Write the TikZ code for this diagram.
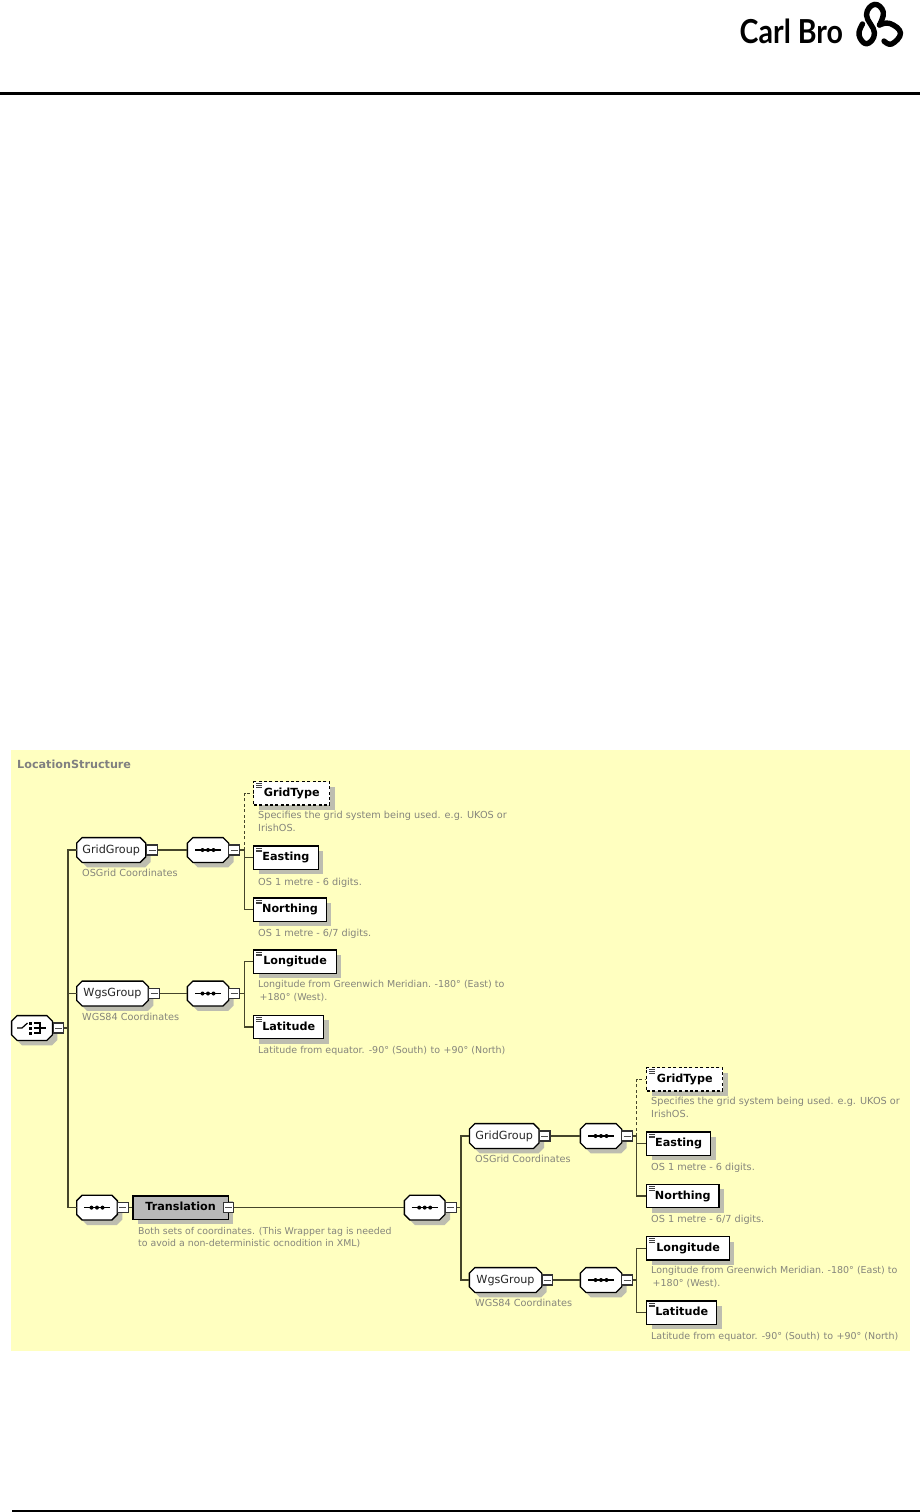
\documentclass[tikz,border=0pt]{standalone}
\usepackage{fontspec}
\setmainfont{DejaVu Sans}
\newfontfamily\logofont{Lato}
\usetikzlibrary{shadows}
\definecolor{panelc}{HTML}{FFFFC0}
\definecolor{shadowc}{HTML}{BDBDB0}
\definecolor{wirec}{HTML}{45452A}
\definecolor{descc}{HTML}{85857C}
\definecolor{transc}{HTML}{B8B8B8}
\makeatletter
\newdimen\octxa\newdimen\octya\newdimen\octxb\newdimen\octyb\newdimen\octc
\pgfdeclareshape{octbox}{
  \inheritsavedanchors[from=rectangle]
  \inheritanchorborder[from=rectangle]
  \inheritanchor[from=rectangle]{center}
  \inheritanchor[from=rectangle]{base}
  \inheritanchor[from=rectangle]{west}
  \inheritanchor[from=rectangle]{east}
  \inheritanchor[from=rectangle]{north}
  \inheritanchor[from=rectangle]{south}
  \backgroundpath{
    \southwest \octxa=\pgf@x \octya=\pgf@y
    \northeast \octxb=\pgf@x \octyb=\pgf@y
    \octc=5.5pt
    \pgfpathmoveto{\pgfqpoint{\dimexpr\octxa+\octc}{\octya}}
    \pgfpathlineto{\pgfqpoint{\dimexpr\octxb-\octc}{\octya}}
    \pgfpathlineto{\pgfqpoint{\octxb}{\dimexpr\octya+\octc}}
    \pgfpathlineto{\pgfqpoint{\octxb}{\dimexpr\octyb-\octc}}
    \pgfpathlineto{\pgfqpoint{\dimexpr\octxb-\octc}{\octyb}}
    \pgfpathlineto{\pgfqpoint{\dimexpr\octxa+\octc}{\octyb}}
    \pgfpathlineto{\pgfqpoint{\octxa}{\dimexpr\octyb-\octc}}
    \pgfpathlineto{\pgfqpoint{\octxa}{\dimexpr\octya+\octc}}
    \pgfpathclose
  }
}
\makeatother
\tikzset{
  wire/.style={draw=wirec,line width=1.2pt},
  wiredash/.style={wire,dash pattern=on 3pt off 2.4pt},
  rul/.style={draw=black},
  sh/.style={general shadow={fill=shadowc,shadow xshift=5pt,shadow yshift=-5pt}},
  octa/.style={octbox,draw=black,line width=1.3pt,fill=white,inner sep=0pt,minimum height=23.5pt,sh,text=black!85,font=\fontsize{11.2}{13}\selectfont,text height=8.5pt,text depth=2.5pt},
  seqicon/.style={path picture={
    \draw[black,line width=1.2pt] ([xshift=-13pt]path picture bounding box.center) -- ([xshift=13pt]path picture bounding box.center);
    \fill[black] ([xshift=-5.5pt]path picture bounding box.center) circle (2pt);
    \fill[black] (path picture bounding box.center) circle (2pt);
    \fill[black] ([xshift=5.5pt]path picture bounding box.center) circle (2pt);}},
  choiceicon/.style={path picture={
    \draw[black,line width=1.2pt] ([shift={(-15pt,0pt)}]path picture bounding box.center) -- ([shift={(-10pt,0pt)}]path picture bounding box.center) -- ([shift={(-4.5pt,5pt)}]path picture bounding box.center);
    \foreach \yy in {-3.5,1.5,6.5}{\fill[black] ([shift={(-2.8pt,\yy pt)}]path picture bounding box.center) rectangle +(3.2pt,-3.2pt);}
    \draw[black,line width=1.2pt] ([shift={(1.5pt,5pt)}]path picture bounding box.center) -- ([shift={(8pt,5pt)}]path picture bounding box.center) -- ([shift={(8pt,-5pt)}]path picture bounding box.center) -- ([shift={(1.5pt,-5pt)}]path picture bounding box.center);
    \draw[black,line width=1.2pt] ([shift={(1.5pt,0pt)}]path picture bounding box.center) -- ([shift={(14pt,0pt)}]path picture bounding box.center);}},
  minusbox/.style={rectangle,draw=black!80,line width=1.1pt,fill=white,inner sep=0pt,minimum width=10.5pt,minimum height=10pt,
    path picture={\draw[black!70,line width=1pt] ([xshift=-3.5pt]path picture bounding box.center) -- ([xshift=3.5pt]path picture bounding box.center);}},
  elem/.style={rectangle,draw=black,line width=1.4pt,fill=white,inner sep=0pt,anchor=north west,minimum height=23.3pt,sh,
    font=\bfseries\fontsize{11.2}{13}\selectfont,text height=8.5pt,text depth=2.5pt,
    path picture={
      \foreach \yy in {2.2,4,5.8}{\draw[solid,black!75,line width=.9pt] ([shift={(2.5pt,-\yy pt)}]path picture bounding box.north west) -- ([shift={(8.5pt,-\yy pt)}]path picture bounding box.north west);}}},
  optelem/.style={elem,draw=black,dash pattern=on 3pt off 2.4pt},
  desc/.style={anchor=north west,inner sep=0pt,align=left,text=descc,yshift=5.6pt,
    font=\fontsize{9.7}{12.7}\selectfont,execute at begin node=\strut,execute at end node=\strut},
  descnarrow/.style={desc,font=\fontsize{9.5}{12.7}\selectfont},
  desctight/.style={desc,font=\fontsize{9.37}{12.7}\selectfont},
  titletext/.style={anchor=west,inner sep=0pt,text=black!50,font=\bfseries\fontsize{11.2}{13}\selectfont}
}
\newcommand{\dblsp}{\hspace{3.5pt}}
\begin{document}
\begin{tikzpicture}[x=1pt,y=-1pt]
\useasboundingbox (0,0) rectangle (920,1512);
\fill[white] (0,0) rectangle (920,1512);
% page furniture
\coordinate (ruleAl) at (0,93.7);
\coordinate (ruleAr) at (920,93.7);
\coordinate (ruleBl) at (12,1511);
\coordinate (ruleBr) at (920,1511);
\draw[rul,line width=2.8pt] (ruleAl) -- (ruleAr);
\draw[rul,line width=1.4pt] (ruleBl) -- (ruleBr);
% logo
\node[anchor=base west,inner sep=0pt,xscale=1.02,yscale=1.18,transform shape,font=\logofont\bfseries\fontsize{28}{30}\selectfont] (logotext) at (739.5,44) {Carl Bro};
\draw[line width=5.4pt,line cap=round,line join=round] plot[smooth,tension=.75] coordinates {(862.5,24) (859,35) (866.7,43.8) (874.5,33) (866.5,15) (874.5,4.4) (883.3,12) (879.5,25)};
\draw[line width=5.4pt,line cap=round,line join=round] plot[smooth,tension=.75] coordinates {(879.5,25) (890,23.5) (900.5,33) (891.7,44) (884,41)};
% panel
\fill[panelc] (11,750) rectangle (910,1351);
\node[titletext] (title) at (17,764) {LocationStructure};
% junctions
\coordinate (bus1) at (68,1028);
\coordinate (bus2) at (244.5,850);
\coordinate (bus3) at (244.5,993.5);
\coordinate (bus4) at (461,1207.6);
\coordinate (bus5) at (636.7,1136);
\coordinate (bus6) at (636.7,1280);
% left tree
\node[octa,minimum width=39.5pt,choiceicon] (root) at (32,1028) {};
\node[minusbox] (rootm) at (58.5,1028) {};
\node[octa,minimum width=67.7pt] (gg1) at (111.2,850) {GridGroup};
\node[minusbox] (gg1m) at (152,850) {};
\node[desc] (gg1d) at (82,873.3) {OSGrid Coordinates};
\node[octa,minimum width=40pt,seqicon] (sq1) at (208,850) {};
\node[minusbox] (sq1m) at (234,850) {};
\node[optelem,minimum width=76pt] (gt1) at (253,781) {GridType};
\node[desc] (gt1d) at (258,816.7) {Specifies the grid system being used. e.g. UKOS or\\IrishOS.};
\node[elem,minimum width=64.5pt] (ea1) at (253,845.3) {Easting};
\node[desc] (ea1d) at (258,881.7) {OS 1 metre - 6 digits.};
\node[elem,minimum width=72.7pt] (no1) at (253,897.4) {Northing};
\node[desc] (no1d) at (258,933.3) {OS 1 metre - 6/7 digits.};
\node[octa,minimum width=70.4pt] (wg1) at (112.5,993.5) {WgsGroup};
\node[minusbox] (wg1m) at (154,993.5) {};
\node[desc] (wg1d) at (82,1016.7) {WGS84 Coordinates};
\node[octa,minimum width=40pt,seqicon] (sq2) at (208,993.5) {};
\node[minusbox] (sq2m) at (234,993.5) {};
\node[elem,minimum width=82.7pt] (lo1) at (253,949.4) {Longitude};
\node[descnarrow] (lo1d) at (258,985.7) {Longitude from Greenwich Meridian.\dblsp -180° (East) to\\\hspace*{1.5pt}+180° (West).};
\node[elem,minimum width=70pt] (la1) at (253,1014.7) {Latitude};
\node[descnarrow] (la1d) at (258,1050.3) {Latitude from equator. -90° (South)\dblsp to\dblsp +90° (North)};
% translation row
\node[octa,minimum width=39.4pt,seqicon] (sq3) at (97,1207.6) {};
\node[minusbox] (sq3m) at (122.8,1207.6) {};
\node[rectangle,draw=black,line width=1.4pt,fill=transc,minimum width=95.3pt,minimum height=23.3pt,inner sep=0pt,sh,font=\bfseries\fontsize{11.2}{13}\selectfont,text height=8.5pt,text depth=2.5pt] (tr) at (180.6,1207.6) {Translation\hspace{4pt}};
\node[minusbox] (trm) at (228.4,1207.6) {};
\node[desctight] (trd) at (138,1232.3) {Both sets of coordinates. (This Wrapper tag is needed\\to avoid a non-deterministic ocnodition in XML)};
\node[octa,minimum width=39.4pt,seqicon] (sq4) at (424.7,1207.6) {};
\node[minusbox] (sq4m) at (450.8,1207.6) {};
% right tree
\node[octa,minimum width=68.3pt] (gg2) at (504.2,1136) {GridGroup};
\node[minusbox] (gg2m) at (544.7,1136) {};
\node[desc] (gg2d) at (475,1159.3) {OSGrid Coordinates};
\node[octa,minimum width=40pt,seqicon] (sq5) at (601,1136) {};
\node[minusbox] (sq5m) at (627,1136) {};
\node[optelem,minimum width=76pt] (gt2) at (646,1066.8) {GridType};
\node[desc] (gt2d) at (651,1102.7) {Specifies the grid system being used. e.g. UKOS or\\IrishOS.};
\node[elem,minimum width=64pt] (ea2) at (646,1131.4) {Easting};
\node[desc] (ea2d) at (651,1167.3) {OS 1 metre - 6 digits.};
\node[elem,minimum width=72.3pt] (no2) at (646,1183.7) {Northing};
\node[desc] (no2d) at (651,1219.3) {OS 1 metre - 6/7 digits.};
\node[octa,minimum width=71pt] (wg2) at (505.5,1280) {WgsGroup};
\node[minusbox] (wg2m) at (547.2,1280) {};
\node[desc] (wg2d) at (475,1302.7) {WGS84 Coordinates};
\node[octa,minimum width=40pt,seqicon] (sq6) at (601,1280) {};
\node[minusbox] (sq6m) at (627,1280) {};
\node[elem,minimum width=82.7pt] (lo2) at (646,1235.8) {Longitude};
\node[descnarrow] (lo2d) at (651,1271.7) {Longitude from Greenwich Meridian.\dblsp -180° (East) to\\\hspace*{1.5pt}+180° (West).};
\node[elem,minimum width=70pt] (la2) at (646,1300.4) {Latitude};
\node[descnarrow] (la2d) at (651,1336.3) {Latitude from equator. -90° (South)\dblsp to\dblsp +90° (North)};
% connectors
\draw[wire] (rootm) -- (bus1);
\draw[wire] (bus1) |- (gg1.west);
\draw[wire] (bus1) |- (wg1.west);
\draw[wire] (bus1) |- (sq3.west);
\draw[wire] (gg1m) -- (sq1.west);
\draw[wire] (wg1m) -- (sq2.west);
\draw[wire] (sq1m) -- (bus2);
\draw[wire] (sq2m) -- (bus3);
\draw[wiredash] (bus2) |- (gt1.west);
\draw[wire] (bus2) |- (ea1.west);
\draw[wire] (bus2) |- (no1.west);
\draw[wire] (bus3) |- (lo1.west);
\draw[wire] (bus3) |- (la1.west);
\draw[wire] (sq3m) -- (tr.west);
\draw[wire] (trm) -- (sq4.west);
\draw[wire] (sq4m) -- (bus4);
\draw[wire] (bus4) |- (gg2.west);
\draw[wire] (bus4) |- (wg2.west);
\draw[wire] (gg2m) -- (sq5.west);
\draw[wire] (wg2m) -- (sq6.west);
\draw[wire] (sq5m) -- (bus5);
\draw[wire] (sq6m) -- (bus6);
\draw[wiredash] (bus5) |- (gt2.west);
\draw[wire] (bus5) |- (ea2.west);
\draw[wire] (bus5) |- (no2.west);
\draw[wire] (bus6) |- (lo2.west);
\draw[wire] (bus6) |- (la2.west);
\end{tikzpicture}
\end{document}
